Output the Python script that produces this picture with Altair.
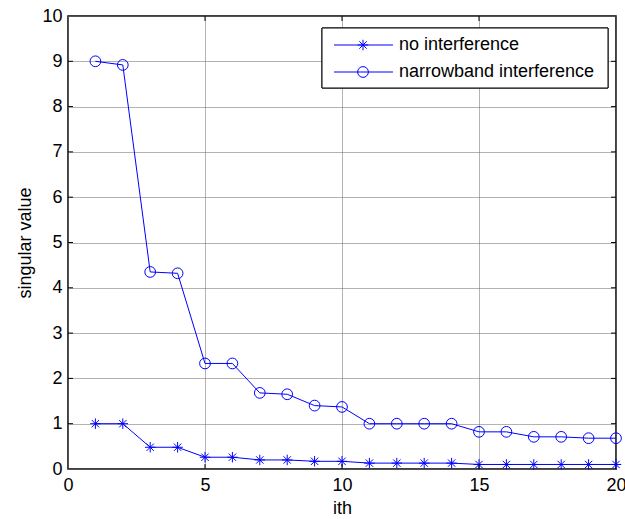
import altair as alt
import pandas as pd

idx = list(range(1, 21))
no_interf = [1.0, 1.0, 0.48, 0.48, 0.26, 0.26, 0.20, 0.20, 0.17, 0.17,
             0.13, 0.13, 0.13, 0.13, 0.10, 0.10, 0.10, 0.10, 0.10, 0.10]
narrow = [9.0, 8.92, 4.35, 4.32, 2.33, 2.33, 1.68, 1.65, 1.40, 1.37,
          1.0, 1.0, 1.0, 1.0, 0.82, 0.82, 0.71, 0.71, 0.68, 0.68]
series_names = ["no interference", "narrowband interference"]
x_ticks = [0, 5, 10, 15, 20]
y_ticks = list(range(0, 11))

W, H = 548, 453
BLUE = "#0000ff"
FONT = "Liberation Sans"
STAR = "M-1,0L1,0M0,-1L0,1M-0.7,-0.7L0.7,0.7M-0.7,0.7L0.7,-0.7"

df = pd.concat([
    pd.DataFrame({"i": idx, "v": no_interf, "s": series_names[0]}),
    pd.DataFrame({"i": idx, "v": narrow, "s": series_names[1]}),
])

xs = alt.Scale(domain=[0, 20], nice=False, zero=False)
ys = alt.Scale(domain=[0, 10], nice=False, zero=False)

x_axis = alt.Axis(values=x_ticks, grid=True, ticks=False, tickSize=0, labelPadding=7,
                  labelFlush=False, title="ith", titlePadding=5, domain=False)
y_axis = alt.Axis(values=y_ticks, grid=True, ticks=False, tickSize=0, labelPadding=6,
                  labelFlush=False, title="singular value", titlePadding=7, domain=False)

lines = alt.Chart(df).mark_line(color=BLUE, strokeWidth=1).encode(
    x=alt.X("i:Q", scale=xs, axis=x_axis),
    y=alt.Y("v:Q", scale=ys, axis=y_axis),
    detail="s:N",
    order="i:Q",
)

points = alt.Chart(df).mark_point(filled=False, color=BLUE, strokeWidth=1, opacity=1).encode(
    x=alt.X("i:Q", scale=xs),
    y=alt.Y("v:Q", scale=ys),
    shape=alt.Shape("s:N", scale=alt.Scale(domain=series_names, range=[STAR, "circle"]), legend=None),
    size=alt.Size("s:N", scale=alt.Scale(domain=series_names, range=[110, 115]), legend=None),
)

xt = pd.DataFrame({"t": [5, 10, 15]})
yt = pd.DataFrame({"t": list(range(1, 10))})
TL = 5
tick_layers = [
    alt.Chart(xt).mark_rule(color="black", strokeWidth=1).encode(
        x=alt.X("t:Q", scale=xs), y=alt.value(H), y2=alt.value(H - TL)),
    alt.Chart(xt).mark_rule(color="black", strokeWidth=1).encode(
        x=alt.X("t:Q", scale=xs), y=alt.value(0), y2=alt.value(TL)),
    alt.Chart(yt).mark_rule(color="black", strokeWidth=1).encode(
        y=alt.Y("t:Q", scale=ys), x=alt.value(0), x2=alt.value(TL)),
    alt.Chart(yt).mark_rule(color="black", strokeWidth=1).encode(
        y=alt.Y("t:Q", scale=ys), x=alt.value(W), x2=alt.value(W - TL)),
]

# legend (plot-area pixel coordinates)
leg_df = pd.DataFrame({"label": series_names})
box = alt.Chart(leg_df).mark_rect(fill="white", stroke="black", strokeWidth=1).encode(
    x=alt.value(254), x2=alt.value(540), y=alt.value(12), y2=alt.value(72))
legend_layers = [box]
row_y = [29, 56]
shapes = [STAR, "circle"]
sizes = [110, 115]
for k, name in enumerate(series_names):
    d = pd.DataFrame({"label": [name]})
    legend_layers.append(alt.Chart(d).mark_rule(color=BLUE, strokeWidth=1).encode(
        x=alt.value(266), x2=alt.value(325), y=alt.value(row_y[k])))
    legend_layers.append(alt.Chart(d).mark_point(shape=shapes[k], size=sizes[k], filled=False,
                                                 color=BLUE, strokeWidth=1, opacity=1).encode(
        x=alt.value(295), y=alt.value(row_y[k])))
    legend_layers.append(alt.Chart(d).mark_text(align="left", baseline="middle", font=FONT,
                                                fontSize=18, color="black").encode(
        x=alt.value(331), y=alt.value(row_y[k]), text="label:N"))

chart = alt.layer(lines, points, *tick_layers, *legend_layers).properties(
    width=W, height=H,
    padding={"left": 68, "top": 16, "right": 9, "bottom": 50},
    autosize=alt.AutoSizeParams(type="none"),
    background="white",
).configure_view(
    stroke="black", strokeWidth=1.5
).configure_axis(
    labelFont=FONT, titleFont=FONT, labelFontSize=18, titleFontSize=18,
    labelColor="black", titleColor="black", titleFontWeight="normal",
    gridColor="#666666", gridDash=[1, 1], gridWidth=1, gridOpacity=1,
)

chart.save("out.html", embed_options={"renderer": "svg", "actions": False})
